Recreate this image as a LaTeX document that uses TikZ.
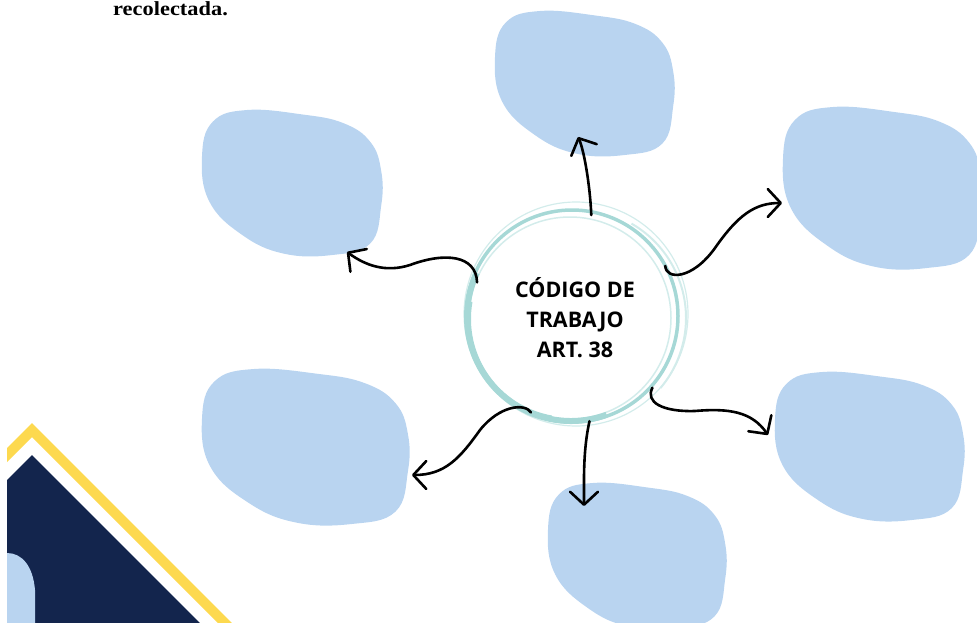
\documentclass[tikz,border=0pt]{standalone}
\usepackage{fontspec}
\usetikzlibrary{arrows.meta}

\newfontfamily\titlefont{Open Sans}
\newfontfamily\notefont[FakeStretch=1.12]{Liberation Serif}

\definecolor{blobblue}{HTML}{B9D4F0}
\definecolor{navy}{HTML}{13254D}
\definecolor{gold}{HTML}{FDD94F}
\definecolor{ringteal}{HTML}{A6D8D6}
\definecolor{ringpale}{HTML}{D3ECEB}

\tikzset{
  blob/.style={fill=blobblue},
  ring/.style={draw=ringteal},
  link/.style={line width=2.6pt,line cap=round,
    -{Straight Barb[length=13pt,width=28pt,round]}},
}

% one soft blob, placed by its top left corner and its size
\newcommand{\blobshape}[4]{%
  \fill[blob,shift={(#1,#2)},xscale=#3,yscale=#4]
    plot[smooth cycle,tension=0.7] coordinates {
      (0,0.32) (0.06,0.08) (0.25,0) (0.55,0.03) (0.78,0.09) (0.93,0.22)
      (0.99,0.42) (0.99,0.66) (0.93,0.92) (0.72,1) (0.45,0.99) (0.22,0.86) (0.04,0.63)};}

\begin{document}
\begin{tikzpicture}[x=1pt,y=-1pt]
  \useasboundingbox (0,0) rectangle (977,623);
  \clip (0,0) rectangle (977,623);

  % corner decoration
  \fill[gold] (7,448) -- (32,423) -- (232,623) -- (218,623) -- (32,437) -- (7,462) -- cycle;
  \fill[navy] (7,480) -- (32,455) -- (200,623) -- (7,623) -- cycle;
  \fill[blob] (7,553) .. controls (22,553) and (33,566) .. (35,590) -- (35,623) -- (7,623) -- cycle;

  \node[anchor=base west,inner sep=0pt,font=\notefont\bfseries\fontsize{20}{24}\selectfont] (note) at (113,16) {recolectada.};

  % blobs
  \blobshape{495}{11}{180}{144}
  \blobshape{202}{110}{181}{145}
  \blobshape{783}{107}{200}{161}
  \blobshape{202}{369}{208}{155}
  \blobshape{775}{372}{190}{148}
  \blobshape{548}{483}{179}{145}

  % centre
  \node[circle,minimum size=208pt,inner sep=0pt,align=center,
    font=\titlefont\bfseries\fontsize{21.5}{30}\selectfont] (codigo) at (575,318)
    {CÓDIGO DE\\TRABAJO\\ART. 38};
  \draw[ring,line width=3.5pt] (codigo.center) ++(-3,-2) circle[radius=106];
  \draw[ringpale,line width=1.2pt] (codigo.center) ++(1,-4) circle[radius=112];
  \draw[ringpale,line width=1.5pt] (codigo.center) ++(-5,0) circle[radius=101];
  \draw[ring,line width=6pt] (codigo.center) ++(-4,-1) ++(70:104) arc[start angle=70,end angle=205,radius=104];
  \draw[ring,line width=2pt] (codigo.center) ++(-6,1) ++(100:99) arc[start angle=100,end angle=190,radius=99];
  \draw[ringpale,line width=2pt] (codigo.center) ++(2,0) ++(-60:109) arc[start angle=-60,end angle=40,radius=109];

  \coordinate (topend) at (578,137);
  \coordinate (tlend) at (347,252);
  \coordinate (trend) at (782,203);
  \coordinate (blend) at (412,475);
  \coordinate (bcend) at (584,506);
  \coordinate (brend) at (768,435);

  \draw[link] (codigo.81) .. controls (590,185) and (584,150) .. (topend);
  \draw[link] (codigo.160) .. controls (476,255) and (445,252) .. (410,265)
    .. controls (385,273) and (365,265) .. (tlend);
  \draw[link] (codigo.30) .. controls (666,280) and (692,280) .. (715,248)
    .. controls (738,215) and (755,203) .. (trend);
  \draw[link] (codigo.-115) .. controls (525,403) and (500,405) .. (480,430)
    .. controls (460,458) and (445,475) .. (blend);
  \draw[link] (codigo.-82) .. controls (583,450) and (584,480) .. (bcend);
  \draw[link] (codigo.-42) .. controls (645,402) and (662,412) .. (695,411)
    .. controls (730,408) and (752,412) .. (brend);
\end{tikzpicture}
\end{document}
